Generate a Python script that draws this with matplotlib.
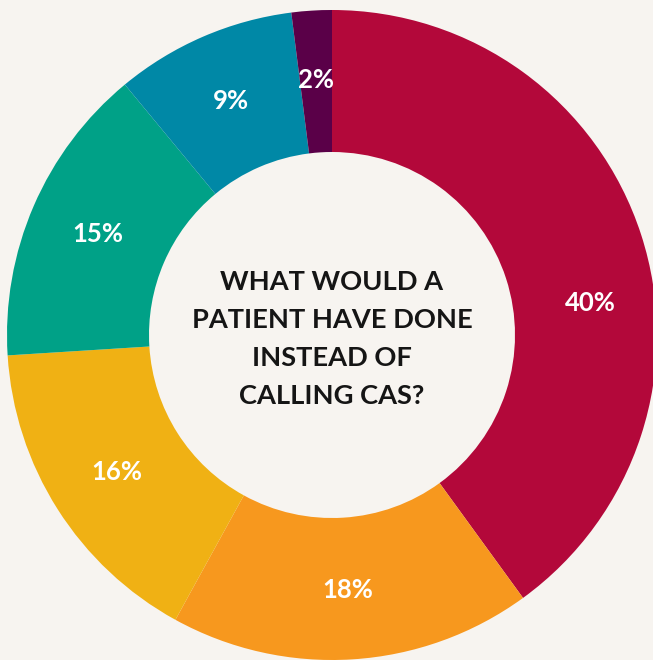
import matplotlib
matplotlib.use("Agg")
import matplotlib.pyplot as plt
import numpy as np

labels = ["40%", "18%", "16%", "15%", "9%", "2%"]
values = [40, 18, 16, 15, 9, 2]
colors = ["#B3083A", "#F7981E", "#F0B114", "#00A187", "#0088A6", "#5A0048"]
center_text = "WHAT WOULD A\nPATIENT HAVE DONE\nINSTEAD OF\nCALLING CAS?"
bg = "#F7F4F0"

W, H = 653, 660
cx, cy, R = 332, 335, 325

fig = plt.figure(figsize=(W / 100, H / 100), dpi=100, facecolor=bg)
ax = fig.add_axes([0, 0, 1, 1])
ax.set_facecolor(bg)

wedges, texts = ax.pie(
    values, colors=colors, startangle=90, counterclock=False,
    radius=1.0, wedgeprops=dict(width=1 - 183 / 325, linewidth=0),
    labels=labels, labeldistance=0.785,
    textprops=dict(color="white", fontsize=18.5, fontweight="bold", family="Lato",
                   ha="center", va="center"))
# the largest slice's label sits nearer the horizontal in the reference
ang = np.deg2rad(90 - 83)
texts[0].set_position((0.8 * np.cos(ang), 0.8 * np.sin(ang)))

ax.text(0, -4 / R, center_text, ha="center", va="center", fontsize=19.6,
        fontweight="bold", family="Lato", color="#151515", linespacing=1.69)

ax.set_xlim(-cx / R, (W - cx) / R)
ax.set_ylim(-(H - cy) / R, cy / R)
ax.set_aspect("equal")
ax.axis("off")
fig.savefig("out.png", dpi=100, facecolor=bg)
